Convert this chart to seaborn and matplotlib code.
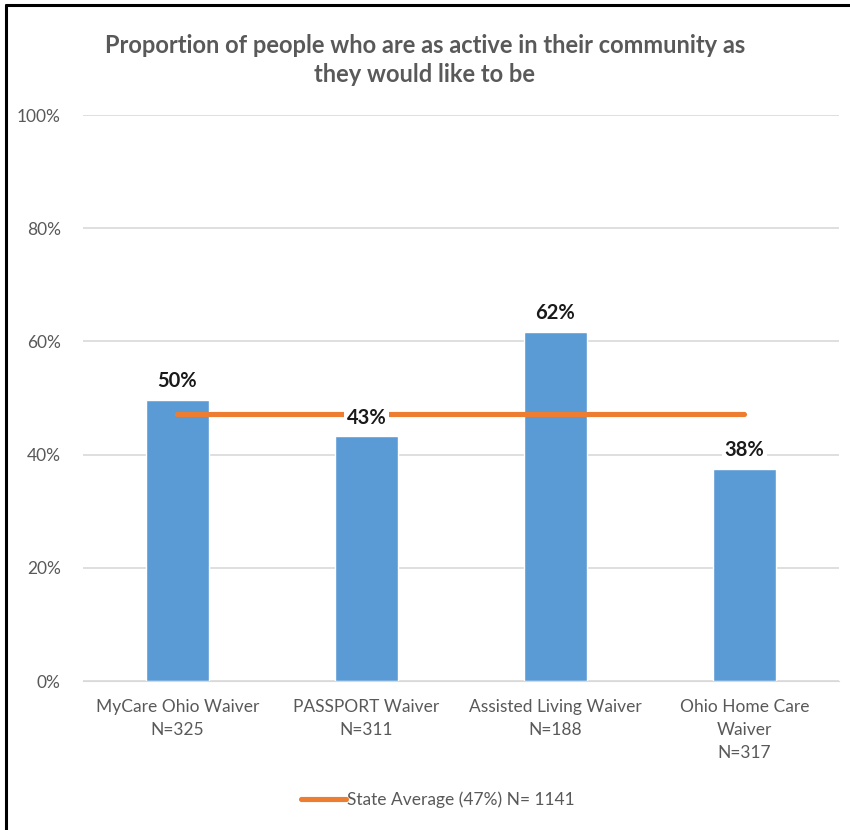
import matplotlib.pyplot as plt
import matplotlib.lines as mlines
import seaborn as sns
import pandas as pd
from matplotlib.ticker import PercentFormatter

# Data
waivers = ['MyCare Ohio Waiver\nN=325', 'PASSPORT Waiver\nN=311',
           'Assisted Living Waiver\nN=188', 'Ohio Home Care\nWaiver\nN=317']
proportion = [0.497, 0.433, 0.617, 0.375]
bar_labels = ['50%', '43%', '62%', '38%']
state_avg = [0.472, 0.472, 0.472, 0.472]
legend_label = 'State Average (47%) N= 1141'

df = pd.DataFrame({'waiver': waivers, 'value': proportion, 'avg': state_avg})

sns.set_style('white')
plt.rcParams['font.family'] = ['Lato', 'DejaVu Sans']

fig = plt.figure(figsize=(8.5, 8.3), dpi=100)
ax = fig.add_axes([0.0976, 0.1795, 0.8894, 0.6819])

sns.barplot(data=df, x='waiver', y='value', color='#5B9BD5', width=0.33,
            saturation=1, ax=ax, zorder=2)
sns.lineplot(data=df, x='waiver', y='avg', color='#ED7D31', linewidth=3.7,
             ax=ax, zorder=3, solid_capstyle='round')

ax.bar_label(ax.containers[0], labels=bar_labels, padding=6, fontsize=14.5,
             fontweight='bold', color='#1a1a1a', zorder=5,
             bbox=dict(facecolor='white', edgecolor='none', pad=2))

ax.set_ylim(0, 1)
ax.set_xlim(-0.5, 3.5)
ax.yaxis.set_major_locator(plt.MultipleLocator(0.2))
ax.yaxis.set_major_formatter(PercentFormatter(1.0, decimals=0))
ax.grid(axis='y', color='#D9D9D9', linewidth=1.2, zorder=0)
ax.set_axisbelow(True)
for s in ['top', 'right', 'left']:
    ax.spines[s].set_visible(False)
ax.spines['bottom'].set_color('#D9D9D9')
ax.tick_params(axis='both', length=0, labelsize=12.5, labelcolor='#595959')
ax.tick_params(axis='y', pad=16)
ax.tick_params(axis='x', pad=13)
ax.set_xlabel('')
ax.set_ylabel('')
for t in ax.get_xticklabels():
    t.set_linespacing(1.55)

fig.text(0.5, 0.928, 'Proportion of people who are as active in their community as\nthey would like to be',
         ha='center', va='center', fontsize=17, fontweight='bold', color='#595959', linespacing=1.3)

handle = mlines.Line2D([], [], color='#ED7D31', linewidth=3.7)
fig.legend([handle], [legend_label], loc='center', bbox_to_anchor=(0.515, 0.036),
           frameon=False, fontsize=12.5, labelcolor='#595959', handlelength=2.6,
           handletextpad=0.05)

# frame lines of the screenshot (left and top)
fig.add_artist(mlines.Line2D([0.0065, 0.0065], [0, 0.9935], color='black', linewidth=2.2))
fig.add_artist(mlines.Line2D([0.0065, 1], [0.9935, 0.9935], color='black', linewidth=2.2))

fig.savefig('out.png', dpi=100, facecolor='white')
